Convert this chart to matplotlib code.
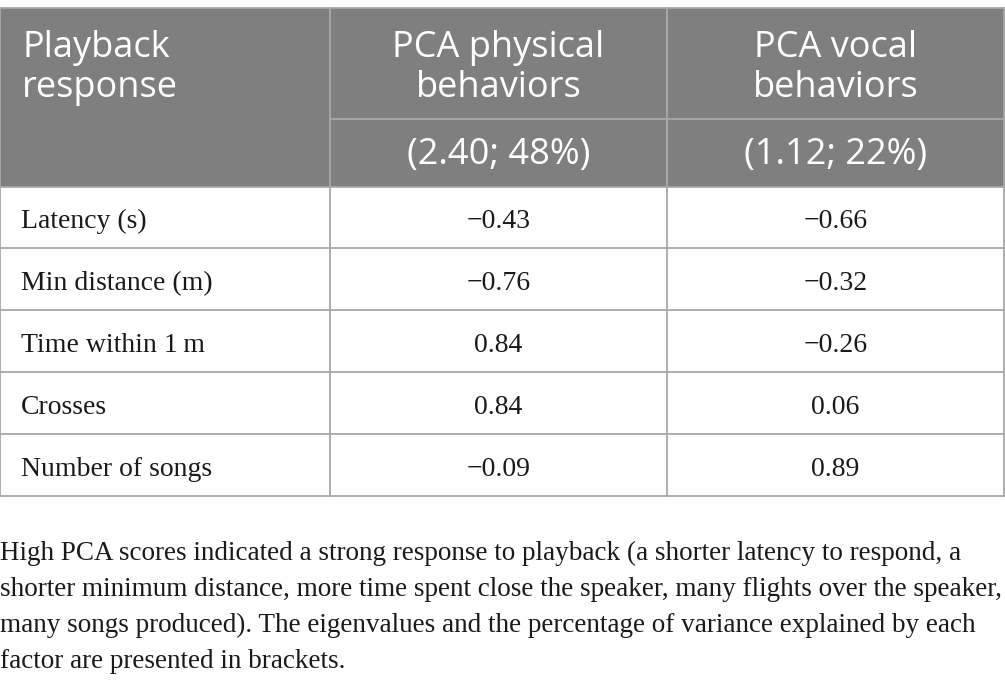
import matplotlib
matplotlib.use("Agg")
import matplotlib.pyplot as plt
from matplotlib.patches import Rectangle

# ---- data ----
row_labels = ["Latency (s)", "Min distance (m)", "Time within 1\u2009m", "Crosses", "Number of songs"]
physical = ["\u22120.43", "\u22120.76", "0.84", "0.84", "\u22120.09"]
vocal = ["\u22120.66", "\u22120.32", "\u22120.26", "0.06", "0.89"]
header_col0 = ["Playback", "response"]
header_names = [["PCA physical", "behaviors"], ["PCA vocal", "behaviors"]]
header_eigen = ["(2.40; 48%)", "(1.12; 22%)"]
footnote_lines = [
    "High PCA scores indicated a strong response to playback (a shorter latency to respond, a",
    "shorter minimum distance, more time spent close the speaker, many flights over the speaker,",
    "many songs produced). The eigenvalues and the percentage of variance explained by each",
    "factor are presented in brackets.",
]

W, H = 1005, 690
fig = plt.figure(figsize=(W / 100, H / 100), dpi=100)
ax = fig.add_axes([0, 0, 1, 1])
ax.set_xlim(0, W)
ax.set_ylim(H, 0)
ax.axis("off")

col_x = [0, 330, 667, 1004]
top = 8
head_split = 118.5
head_bot = 186.5
row_h = (496 - head_bot) / len(row_labels)

HEAD_BG = "#7f7f7f"
LINE = "#a8a8a8"
LW = 1.3
sans = ["Open Sans", "DejaVu Sans"]
serif = ["Liberation Serif", "DejaVu Serif"]
TXT = "#1a1a1a"

# header background
ax.add_patch(Rectangle((0, top), W, head_bot - top, facecolor=HEAD_BG, edgecolor="none"))

# grid lines
ax.plot([0, W], [top, top], color=LINE, lw=LW)
ax.plot([col_x[1], col_x[3]], [head_split, head_split], color=LINE, lw=LW)
ax.plot([0, W], [head_bot, head_bot], color=LINE, lw=LW)
for i in range(1, len(row_labels) + 1):
    y = head_bot + i * row_h
    ax.plot([0, W], [y, y], color=LINE, lw=LW)
bottom = head_bot + len(row_labels) * row_h
for x in col_x:
    ax.plot([x, x], [top, bottom], color=LINE, lw=LW)

# header text
hfs = 26
line_base = [57, 97]
for k, t in enumerate(header_col0):
    ax.text(22, line_base[k], t, fontsize=hfs, family=sans, color="white",
            ha="left", va="baseline")
for j in range(2):
    cx = (col_x[j + 1] + col_x[j + 2]) / 2
    for k, t in enumerate(header_names[j]):
        ax.text(cx, line_base[k], t, fontsize=hfs, family=sans, color="white",
                ha="center", va="baseline")
    ax.text(cx, 164, header_eigen[j], fontsize=hfs, family=sans, color="white",
            ha="center", va="baseline")

# body
bfs = 20
for i, lab in enumerate(row_labels):
    yc = head_bot + (i + 0.5) * row_h
    yb = yc + 11
    ax.text(21, yb, lab, fontsize=bfs, family=serif, color=TXT, ha="left", va="baseline")
    ax.text((col_x[1] + col_x[2]) / 2, yb, physical[i], fontsize=bfs, family=serif,
            color=TXT, ha="center", va="baseline")
    ax.text((col_x[2] + col_x[3]) / 2, yb, vocal[i], fontsize=bfs, family=serif,
            color=TXT, ha="center", va="baseline")

# footnote
ffs = 19.5
for k, line in enumerate(footnote_lines):
    ax.text(0, 560 + k * 36, line, fontsize=ffs, family=serif, color=TXT,
            ha="left", va="baseline")

fig.savefig("out.png", dpi=100, facecolor="white")
